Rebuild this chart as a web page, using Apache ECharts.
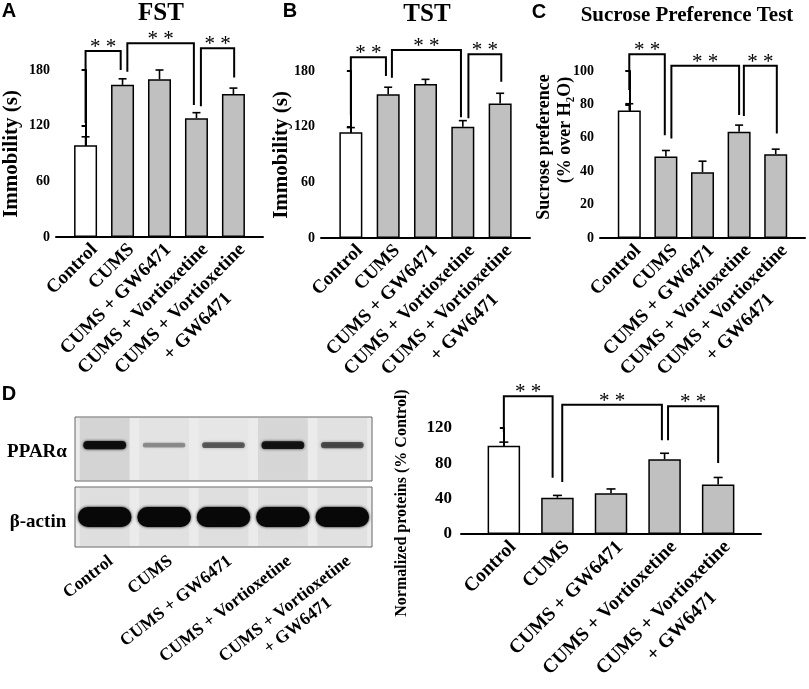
<!DOCTYPE html>
<html><head><meta charset="utf-8">
<script src="https://cdn.jsdelivr.net/npm/echarts@6/dist/echarts.min.js"></script>
<style>html,body{margin:0;padding:0;background:#fff}#c{width:809px;height:689px}</style>
</head><body><div id="c"></div>
<script>
// ---------- data ----------
const groups = ['Control','CUMS','CUMS + GW6471','CUMS + Vortioxetine','CUMS + Vortioxetine\n+ GW6471'];
const fstMean = [99,164,170,128,154];
const fstErr  = [9,6.5,10,6,6.5];
const tstMean = [114,155,166,120,145];
const tstErr  = [5,7.5,5,6.5,11];
const sptMean = [76.4,48.8,39.4,63.6,50.2];
const sptErr  = [4,3.6,6.6,4,3];
const wbMean  = [100,41,46,84.7,56];
const wbErr   = [4,2.7,5,6.7,8];
// significance brackets: [xLeft, xRight, topLevel, leftDrop, rightDrop] (axis units)
const fstBrackets = [[0,0.95,200.5,123,180],[1.13,2.93,208.8,178,142.3],[3.12,4.02,203.4,141,172]];
const tstBrackets = [[0,0.94,194.7,132.7,174.6],[1.1,2.95,202.6,172.8,130.2],[3.15,4.03,198,129.1,168.5]];
const sptBrackets = [[0,0.97,110,88.6,61.6],[1.15,3,103.2,59.6,73.6],[3.13,4.03,103.2,73,62.6]];
const wbBrackets  = [[0,0.91,156,115.5,63.6],[1.09,2.95,146.4,59,106],[3.065,4,144.5,106,80.5]];
const sigMark = '* *';
// western blot band intensities (relative)
const pparaBand = [0.95,0.35,0.55,0.9,0.6];
const actinBand = [1,1,1,1,1];

// ---------- styles ----------
const SERIF = '"Liberation Serif","Times New Roman",serif';
const SANS = '"Liberation Sans",Arial,sans-serif';
const GRAY = '#c0c0c0';

function richLabel(text){
  return text.split('\n').map(l => '{c|' + l + '}').join('\n');
}
function labelStyle(size, rot, margin, lh){
  return {
    show:true, rotate:rot, margin:margin, align:'right', verticalAlign:'top',
    color:'#000', fontFamily:SERIF, fontWeight:'bold', fontSize:size, lineHeight:lh,
    rich:{c:{align:'center', color:'#000', fontFamily:SERIF, fontWeight:'bold', fontSize:size, lineHeight:lh}}
  };
}

const panels = [
  {grid:{left:56,top:70,width:207,height:167}, mean:fstMean, err:fstErr, br:fstBrackets, max:180, interval:60, tick:14, tickMargin:6, barW:23, cap:4, lab:19, rot:45, lm:1, lh:25},
  {grid:{left:321,top:71,width:209,height:167}, mean:tstMean, err:tstErr, br:tstBrackets, max:180, interval:60, tick:14, tickMargin:6, barW:23, cap:4, lab:19, rot:45, lm:1, lh:25},
  {grid:{left:600,top:71,width:205,height:167}, mean:sptMean, err:sptErr, br:sptBrackets, max:100, interval:20, tick:14, tickMargin:6, barW:23, cap:4, lab:19, rot:45, lm:1, lh:25},
  {grid:{left:461,top:428,width:300,height:106}, mean:wbMean, err:wbErr, br:wbBrackets, max:120, interval:40, tick:17, tickMargin:9, barW:32.5, cap:4.5, lab:19.5, rot:45, lm:1, lh:26}
];

const grid = [], xAxis = [], yAxis = [], series = [];

panels.forEach((p, k) => {
  grid.push(Object.assign({containLabel:false, outerBoundsMode:'none'}, p.grid));
  const ls = labelStyle(p.lab, p.rot, p.lm, p.lh);
  ls.formatter = v => { const r = Math.round(v); return (Math.abs(v-r) < 1e-6 && r >= 0 && r < groups.length) ? richLabel(groups[r]) : ''; };
  xAxis.push({
    gridIndex:k, type:'value', min:-0.8, max:4.8, interval:0.2,
    axisLine:{show:true, onZero:false, lineStyle:{color:'#000', width:2}},
    axisTick:{show:false}, splitLine:{show:false},
    axisLabel: ls
  });
  yAxis.push({
    gridIndex:k, type:'value', min:0, max:p.max, interval:p.interval,
    axisLine:{show:true, lineStyle:{color:'#000', width:2}},
    axisTick:{show:true, length:4, lineStyle:{color:'#000', width:2}},
    splitLine:{show:false},
    axisLabel:{color:'#000', fontFamily:SERIF, fontWeight:'bold', fontSize:p.tick, margin:p.tickMargin}
  });
  series.push({
    type:'bar', xAxisIndex:k, yAxisIndex:k, barWidth:p.barW,
    data: p.mean.map((v,i) => ({value:[i,v], itemStyle:{color: i===0 ? '#ffffff' : GRAY}})),
    itemStyle:{borderColor:'#000', borderWidth:1.5}, z:2
  });
  series.push({
    type:'custom', xAxisIndex:k, yAxisIndex:k, z:3, clip:false,
    encode:{x:0, y:[1,2]},
    data: p.mean.map((v,i) => [i, v, p.err[i]]),
    renderItem: (params, api) => {
      const i = api.value(0), v = api.value(1), e = api.value(2);
      const a = api.coord([i, v]), b = api.coord([i, v+e]);
      const st = {stroke:'#000', lineWidth:1.6};
      return {type:'group', children:[
        {type:'line', shape:{x1:a[0], y1:a[1], x2:b[0], y2:b[1]}, style:st},
        {type:'line', shape:{x1:b[0]-p.cap, y1:b[1], x2:b[0]+p.cap, y2:b[1]}, style:st}
      ]};
    }
  });
  series.push({
    type:'custom', xAxisIndex:k, yAxisIndex:k, z:4, clip:false,
    encode:{x:[0,1], y:[2,3,4]},
    data: p.br,
    renderItem: (params, api) => {
      const x1 = api.value(0), x2 = api.value(1), top = api.value(2), y1 = api.value(3), y2 = api.value(4);
      const a = api.coord([x1,y1]), b = api.coord([x1,top]), c = api.coord([x2,top]), d = api.coord([x2,y2]);
      return {type:'group', children:[
        {type:'polyline', shape:{points:[a,b,c,d]}, style:{stroke:'#000', lineWidth:2, fill:null}},
        {type:'text', style:{text:sigMark, x:(b[0]+c[0])/2, y:b[1]-3.5, align:'center', verticalAlign:'middle',
          fontFamily:SERIF, fontSize:21, fill:'#000'}}
      ]};
    }
  });
});

// western blot panels
const blotGrids = [
  {left:75, top:417, width:297, height:64},
  {left:75, top:487, width:297, height:60}
];
const laneShadeTop = [0.09,0.03,0.02,0.08,0.04];
const laneShadeBottom = [0.05,0.04,0.05,0.05,0.04];
blotGrids.forEach((g, j) => {
  const k = grid.length;
  grid.push(Object.assign({show:true, borderColor:'#666', borderWidth:1, backgroundColor:'#ebebeb', outerBoundsMode:'none'}, g));
  let ls = {show:false};
  if (j === 1) { ls = labelStyle(17.5, 38, 4, 21); ls.interval = 0; ls.formatter = v => richLabel(v); }
  xAxis.push({
    gridIndex:k, type:'category', data:groups, boundaryGap:true,
    axisLine:{show:false}, axisTick:{show:false}, splitLine:{show:false},
    axisLabel: ls
  });
  yAxis.push({gridIndex:k, type:'value', min:0, max:1, show:false, splitLine:{show:false}});
  const bands = j === 0 ? pparaBand : actinBand;
  const shades = j === 0 ? laneShadeTop : laneShadeBottom;
  series.push({
    type:'custom', xAxisIndex:k, yAxisIndex:k, z:2,
    encode:{x:0, y:1},
    data: bands.map((v,i) => [i, v]),
    renderItem: (params, api) => {
      const i = api.value(0), a = api.value(1);
      const lane = api.size([1,0])[0];
      const top = api.coord([i, 1]), bot = api.coord([i, 0]);
      const cy = j === 0 ? top[1] + (bot[1]-top[1])*0.44 : top[1] + (bot[1]-top[1])*0.5;
      const w = j === 0 ? lane*0.72 : lane*0.9;
      const h = j === 0 ? 2.5 + 6*a : 20;
      const col = j === 0 ? 'rgba(12,12,12,' + a.toFixed(2) + ')' : '#080808';
      return {type:'group', children:[
        {type:'rect', shape:{x:top[0]-lane*0.42, y:top[1]+1, width:lane*0.84, height:bot[1]-top[1]-2},
          style:{fill:'rgba(0,0,0,' + shades[i] + ')', shadowBlur:6, shadowColor:'rgba(0,0,0,' + shades[i] + ')'}},
        {type:'rect', shape:{x:top[0]-w/2, y:cy-h/2, width:w, height:h, r:h/2},
          style:{fill:col, shadowBlur:3, shadowColor:col}}
      ]};
    }
  });
});

function txt(text, x, y, size, rot, family){
  return {type:'text', x:x, y:y, rotation:rot || 0, z:10,
    style:{text:text, fontFamily:family || SERIF, fontWeight:'bold', fontSize:size, fill:'#000', align:'center', verticalAlign:'middle'}};
}
const R = Math.PI/2;
const graphic = [
  txt('A', 9, 11.5, 20, 0, SANS),
  txt('B', 290, 11.5, 20, 0, SANS),
  txt('C', 539, 12, 20, 0, SANS),
  txt('D', 9, 394, 20, 0, SANS),
  txt('FST', 161, 14, 25),
  txt('TST', 427, 15, 25),
  txt('Sucrose Preference Test', 687, 16, 21),
  txt('Immobility (s)', 12, 154, 21, R),
  txt('Immobility (s)', 282, 155, 21, R),
  txt('Sucrose preference', 544, 147, 18, R),
  txt('(% over H\u2082O)', 565, 130, 18, R),
  txt('Normalized proteins (% Control)', 402, 503, 16, R),
  txt('PPAR\u03b1', 37, 452, 19),
  txt('\u03b2-actin', 38, 522, 19)
];

const chart = echarts.init(document.getElementById('c'), null, {renderer:'canvas'});
chart.setOption({animation:false, backgroundColor:'#fff', grid, xAxis, yAxis, series, graphic});
</script>
</body></html>
